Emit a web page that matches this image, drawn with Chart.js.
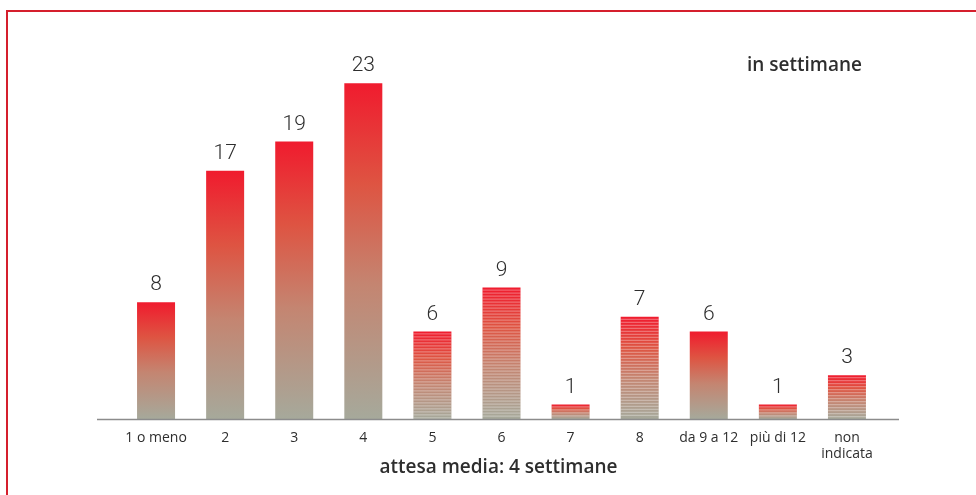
<!DOCTYPE html>
<html>
<head>
<meta charset="utf-8">
<script src="https://cdn.jsdelivr.net/npm/chart.js@4/dist/chart.umd.min.js"></script>
<style>
  html, body { margin: 0; padding: 0; background: #fff; overflow: hidden; }
  #wrap { position: relative; width: 976px; height: 495px; }
  #frame { position: absolute; left: 6px; top: 10px; width: 2000px; height: 2000px;
           border-left: 2px solid #d51f2d; border-top: 2px solid #d51f2d; box-sizing: border-box; }
  canvas { position: absolute; left: 0; top: 0; }
</style>
</head>
<body>
<div id="wrap">
  <div id="frame"></div>
  <canvas id="c" width="976" height="495"></canvas>
</div>
<script>
// ---- data ----
const categories = ["1 o meno", "2", "3", "4", "5", "6", "7", "8", "da 9 a 12", "più di 12", ["non", "indicata"]];
const values = [8, 17, 19, 23, 6, 9, 1, 7, 6, 1, 3];
const unitNote = "in settimane";
const axisTitle = "attesa media: 4 settimane";

// which bars show the scanned stripe texture (style only)
const stripedBars = [false, false, false, false, true, true, true, true, false, true, true];

const TEXT = "#2e2e2e";

const decor = {
  id: "decor",
  beforeDatasetsDraw(chart) {
    const c = chart.ctx;
    const meta = chart.getDatasetMeta(0);
    meta.data.forEach((bar) => {
      const top = bar.y, base = bar.base;
      if (!isFinite(top) || !isFinite(base)) return;
      const g = c.createLinearGradient(0, top, 0, base);
      g.addColorStop(0, "#f01b2e");
      g.addColorStop(0.3, "#de5442");
      g.addColorStop(0.6, "#c48571");
      g.addColorStop(1, "#a6a99b");
      bar.options = Object.assign({}, bar.options, { backgroundColor: g });
    });
  },
  afterDatasetsDraw(chart) {
    const c = chart.ctx;
    const meta = chart.getDatasetMeta(0);
    // stripes
    meta.data.forEach((bar, i) => {
      if (!stripedBars[i]) return;
      const left = bar.x - bar.width / 2, right = bar.x + bar.width / 2;
      c.save();
      c.strokeStyle = "rgba(255,255,255,0.38)";
      c.lineWidth = 1;
      for (let y = bar.y + 2.5; y < bar.base - 1; y += 3) {
        c.beginPath(); c.moveTo(left, y); c.lineTo(right, y); c.stroke();
      }
      c.restore();
    });
    // value labels
    c.save();
    c.fillStyle = TEXT;
    c.font = "300 21px Roboto";
    c.textAlign = "center";
    c.textBaseline = "middle";
    meta.data.forEach((bar, i) => {
      c.fillText(String(values[i]), bar.x, bar.y - 17);
    });
    c.restore();
    // axis line
    const a = chart.chartArea;
    c.save();
    c.strokeStyle = "#8c8c8c";
    c.lineWidth = 1.5;
    c.beginPath();
    c.moveTo(a.left - 24.5, a.bottom + 0.5);
    c.lineTo(a.right + 17.5, a.bottom + 0.5);
    c.stroke();
    // texts
    c.fillStyle = TEXT;
    c.font = "600 19px 'Open Sans'";
    c.textBaseline = "middle";
    c.textAlign = "left";
    c.fillText(unitNote, 747, 66);
    c.textAlign = "center";
    c.fillText(axisTitle, (a.left + a.right) / 2 - 3, 468);
    c.restore();
  }
};

new Chart(document.getElementById("c"), {
  type: "bar",
  data: {
    labels: categories,
    datasets: [{
      data: values,
      backgroundColor: "#c97d66",
      borderWidth: 0,
      barPercentage: 0.55,
      categoryPercentage: 1
    }]
  },
  options: {
    responsive: false,
    animation: false,
    layout: { padding: { left: 121.5, right: 94.5, top: 54, bottom: 30 } },
    plugins: { legend: { display: false }, tooltip: { enabled: false } },
    scales: {
      x: {
        grid: { display: false },
        border: { display: false },
        ticks: { color: TEXT, font: { family: "'Open Sans'", size: 14, lineHeight: 1.143 }, padding: 3, maxRotation: 0, autoSkip: false }
      },
      y: { display: false, min: 0, max: 25 }
    }
  },
  plugins: [decor]
});
</script>
</body>
</html>
